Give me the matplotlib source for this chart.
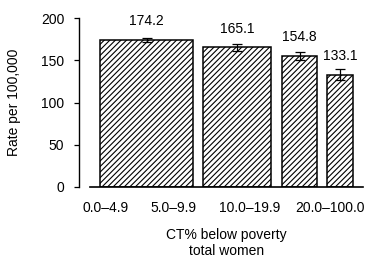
import matplotlib
matplotlib.use("Agg")
import matplotlib.pyplot as plt

plt.rcParams['font.family'] = ['Liberation Sans', 'DejaVu Sans']
plt.rcParams['hatch.linewidth'] = 0.8

categories = ["0.0\u20134.9", "5.0\u20139.9", "10.0\u201319.9", "20.0\u2013100.0"]
rates = [174.2, 165.1, 154.8, 133.1]
errors = [2.5, 4.0, 5.0, 6.5]
value_labels = ["174.2", "165.1", "154.8", "133.1"]

# layout (axis units)
bar_lefts = [21, 124, 203, 248]
bar_widths = [93, 68, 35, 26]
tick_pos = [27, 94, 171, 251]

fig = plt.figure(figsize=(3.71, 2.62), dpi=100)
ax = fig.add_axes([79/371, 75/262, 284/371, 169/262])

for left, w, r, e, lab in zip(bar_lefts, bar_widths, rates, errors, value_labels):
    ax.bar(left, r, width=w, align='edge', facecolor='white', edgecolor='black',
           hatch='//////', linewidth=1.1, zorder=2)
    ax.errorbar(left + w / 2, r, yerr=e, color='black', capsize=3.6,
                elinewidth=0.9, capthick=0.9, zorder=3)
    ax.annotate(lab, xy=(left + w / 2, r), xytext=(0, 13.5), textcoords='offset points',
                ha='center', va='center', fontsize=10)

ax.set_xlim(0, 284)
ax.set_ylim(0, 200)
ax.set_yticks([0, 50, 100, 150, 200])
ax.set_xticks(tick_pos)
ax.set_xticklabels(categories)
ax.tick_params(axis='x', length=0, pad=10, labelsize=10)
ax.tick_params(axis='y', length=3.5, width=0.9, pad=7, labelsize=10)

ax.spines['top'].set_visible(False)
ax.spines['right'].set_visible(False)
ax.spines['left'].set_linewidth(1.0)
ax.spines['bottom'].set_linewidth(1.2)
ax.spines['bottom'].set_bounds(11, 284)

ax.set_ylabel("Rate per 100,000", fontsize=10)
ax.yaxis.set_label_coords(-0.205, 0.5)
ax.set_xlabel("CT% below poverty\ntotal women", fontsize=10, linespacing=1.1)
ax.xaxis.set_label_coords(0.518, -0.245)
ax.xaxis.label.set_va('top')

fig.savefig("out.png", dpi=100)
